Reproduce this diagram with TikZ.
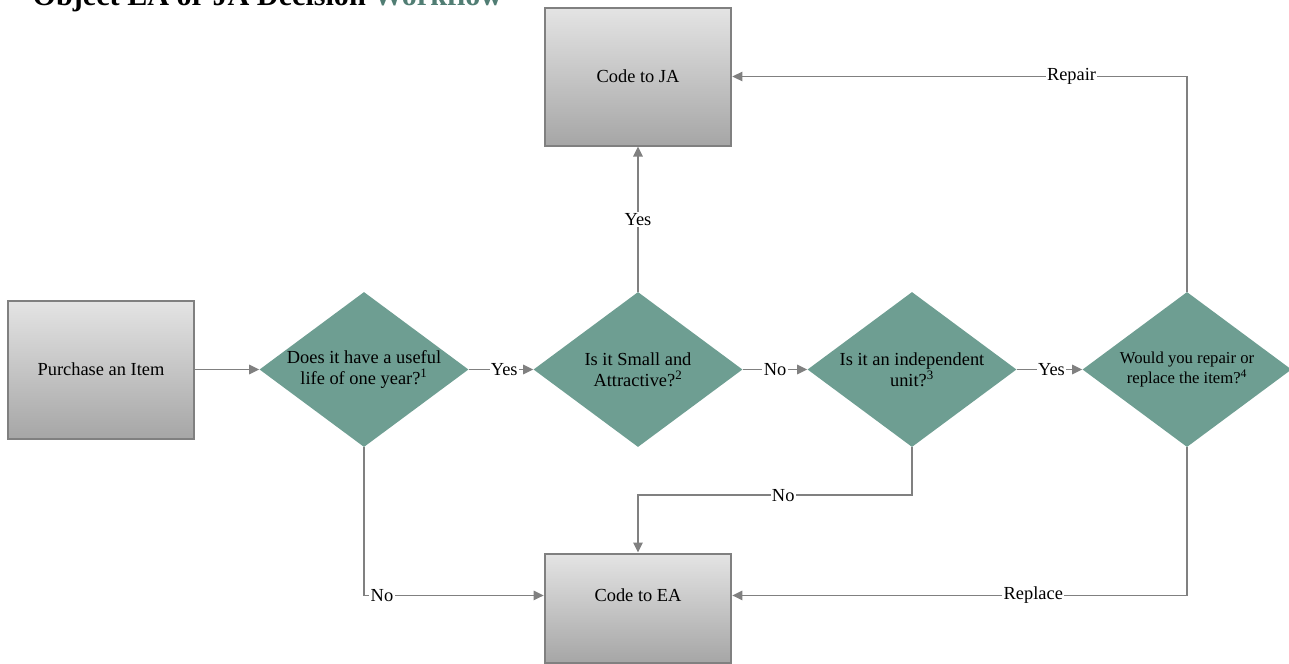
\documentclass[tikz,border=0pt]{standalone}
\usepackage{fontspec}
\setmainfont{Liberation Serif}
\usetikzlibrary{shapes.geometric,arrows.meta,positioning}
\definecolor{sage}{RGB}{110,158,146}
\definecolor{sagedark}{RGB}{80,125,115}
\definecolor{linegray}{RGB}{128,128,128}
\definecolor{boxtop}{RGB}{228,228,228}
\definecolor{boxbot}{RGB}{166,166,166}

\begin{document}
\begin{tikzpicture}[x=0.75pt,y=-0.75pt,->,>={Triangle[length=7.5pt,width=7pt]},
                    every node/.style={font=\fontsize{13.8}{16}\selectfont}]
  \tikzstyle{codebox}=[rectangle,draw=linegray,line width=1.5pt,top color=boxtop,bottom color=boxbot,
                       minimum width=140pt,minimum height=103.5pt,align=center]
  \tikzstyle{decision}=[diamond,fill=sage,inner sep=0pt,aspect=1.35,
                        minimum width=156.75pt,minimum height=116.25pt,align=center]
  \tikzstyle{flow}=[draw=linegray,line width=1.2pt]
  \tikzstyle{answer}=[fill=white,inner sep=1pt,text=black]

  \useasboundingbox (0,0) rectangle (1289,664);

  \node[anchor=base west,font=\bfseries\fontsize{22.6}{26}\selectfont] (title) at (28,5)
       {Object EA or JA Decision \textcolor{sagedark}{Workflow}};

  \node[codebox]  (buy) at (101,369.5) {Purchase an Item};
  \node[decision] (life)  [right of=buy,node distance=197.25pt]  {Does it have a useful\\life of one year?\textsuperscript{1}};
  \node[decision] (small) [right of=life,node distance=205.5pt]  {Is it Small and\\Attractive?\textsuperscript{2}};
  \node[decision] (unit)  [right of=small,node distance=205.5pt] {Is it an independent\\unit?\textsuperscript{3}};
  \node[decision,font=\fontsize{12.5}{15}\selectfont] (fix) [right of=unit,node distance=206.25pt]
       {Would you repair or\\replace the item?\textsuperscript{4}};
  \node[codebox]  (ja) [above of=small,node distance=219.75pt] {Code to JA};
  \node[codebox,minimum height=81.75pt,label={[yshift=9.4pt]center:Code to EA}] (ea)
       [below of=small,node distance=178.875pt] {};

  \draw[flow] (buy) -- (life);
  \draw[flow] (life) -- node[answer,pos=0.55] {Yes} (small);
  \draw[flow] (small) -- node[answer] {Yes} (ja);
  \draw[flow] (small) -- node[answer] {No} (unit);
  \draw[flow] (unit) -- node[answer,pos=0.53] {Yes} (fix);

  \draw[flow] (life.south) |- node[answer,pos=0.55] {No} ([yshift=9.4pt]ea.west);
  \draw[flow] (unit.south) -- ++(0,48) -| node[answer,pos=0.235] {No} (ea.north);
  \draw[flow] (fix.south) |- node[answer,pos=0.669] {Replace} ([yshift=9.4pt]ea.east);
  \draw[flow] (fix.north) |- node[answer,pos=0.627] {Repair} (ja.east);
\end{tikzpicture}
\end{document}
